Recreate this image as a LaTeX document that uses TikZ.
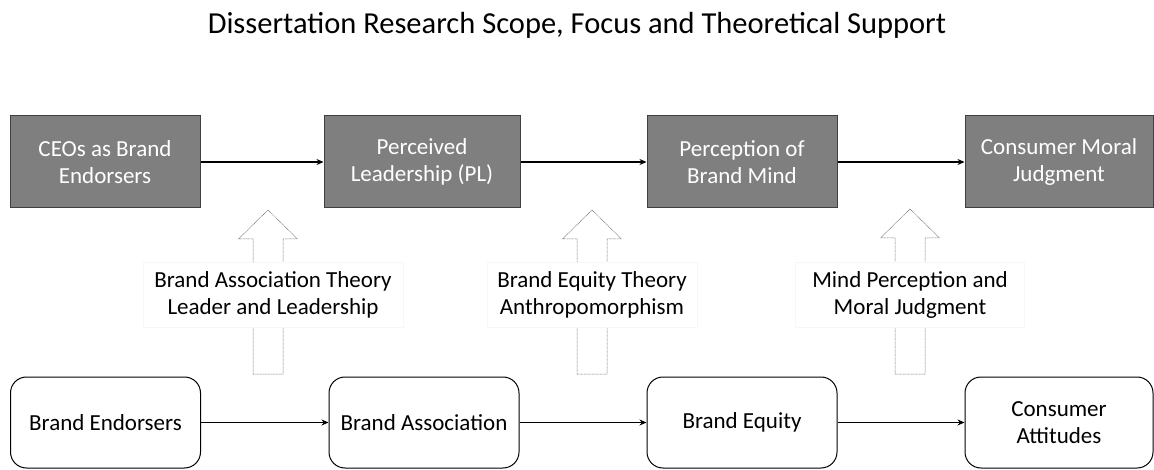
\documentclass[tikz,border=0pt]{standalone}
\usepackage{fontspec}
\setmainfont{Carlito}
\usepackage{tikz}
\usetikzlibrary{arrows.meta,positioning}
\definecolor{boxgray}{RGB}{127,127,127}
\definecolor{boxedge}{RGB}{64,64,64}
\definecolor{hollowgray}{RGB}{110,110,110}
\tikzstyle{arrow} = [line width=1.4pt,-{Stealth[length=7pt,width=6pt]},color=black]
\tikzstyle{hollow} = [dash pattern=on 1pt off 0.6pt,line width=0.5pt,color=hollowgray]

\begin{document}
\begin{tikzpicture}[x=1pt,y=-1pt]
    \useasboundingbox (0,0) rectangle (1154,470);
    \tikzset{
        topbox/.style={rectangle, draw=boxedge, line width=1pt, fill=boxgray, text=white, minimum width=190pt, minimum height=92pt, align=center, font=\fontsize{23}{27.5}\selectfont},
        basebox/.style={rectangle, rounded corners=16pt, draw=black, line width=1pt, fill=white, minimum width=190pt, minimum height=91pt, align=center, font=\fontsize{23}{27.5}\selectfont},
        theory/.style={rectangle, draw=black!3, fill=white, minimum height=65pt, align=center, font=\fontsize{23}{27.5}\selectfont}
    }

    % Title
    \node (title) at (577,25) {\fontsize{30.5}{36}\selectfont Dissertation Research Scope, Focus and Theoretical Support};

    % Research focus
    \node[topbox] (ceo) at (105,162) {CEOs as Brand\\Endorsers};
    \node[topbox, minimum width=196pt] (lead) at (422,162) {Perceived\\Leadership (PL)};
    \node[topbox] (mind) at (742,162) {Perception of\\Brand Mind};
    \node[topbox, minimum width=188pt] (moral) at (1059,162) {Consumer Moral\\Judgment};

    % Research scope
    \node[basebox] (endorse) at (105.5,422.5) {Brand Endorsers};
    \node[basebox] (assoc) at (424,422.5) {Brand Association};
    \node[basebox] (equity) at (742,422.5) {Brand Equity};
    \node[basebox, minimum width=188pt] (attitude) at (1059,422.5) {Consumer\\Attitudes};

    % Connecting arrows
    \draw[arrow] (ceo) -- (lead);
    \draw[arrow] (lead) -- (mind);
    \draw[arrow] (mind) -- (moral);
    \draw[arrow] (endorse) -- (assoc);
    \draw[arrow] (assoc) -- (equity);
    \draw[arrow] (equity) -- (attitude);

    % Theoretical support
    \draw[hollow] (268,210) -- (297.5,239) -- (283,239) -- (283,374) -- (253,374) -- (253,239) -- (238.5,239) -- cycle;
    \draw[hollow] (592,210) -- (621.5,239) -- (607,239) -- (607,374) -- (577,374) -- (577,239) -- (562.5,239) -- cycle;
    \draw[hollow] (910,209) -- (939.5,238) -- (925,238) -- (925,374) -- (895,374) -- (895,238) -- (880.5,238) -- cycle;

    \node[theory, minimum width=260pt] (assoctheory) at (273,295) {Brand Association Theory\\Leader and Leadership};
    \node[theory, minimum width=210pt] (equitytheory) at (592,295) {Brand Equity Theory\\Anthropomorphism};
    \node[theory, minimum width=229pt] (mindtheory) at (910,295) {Mind Perception and\\Moral Judgment};
\end{tikzpicture}
\end{document}
